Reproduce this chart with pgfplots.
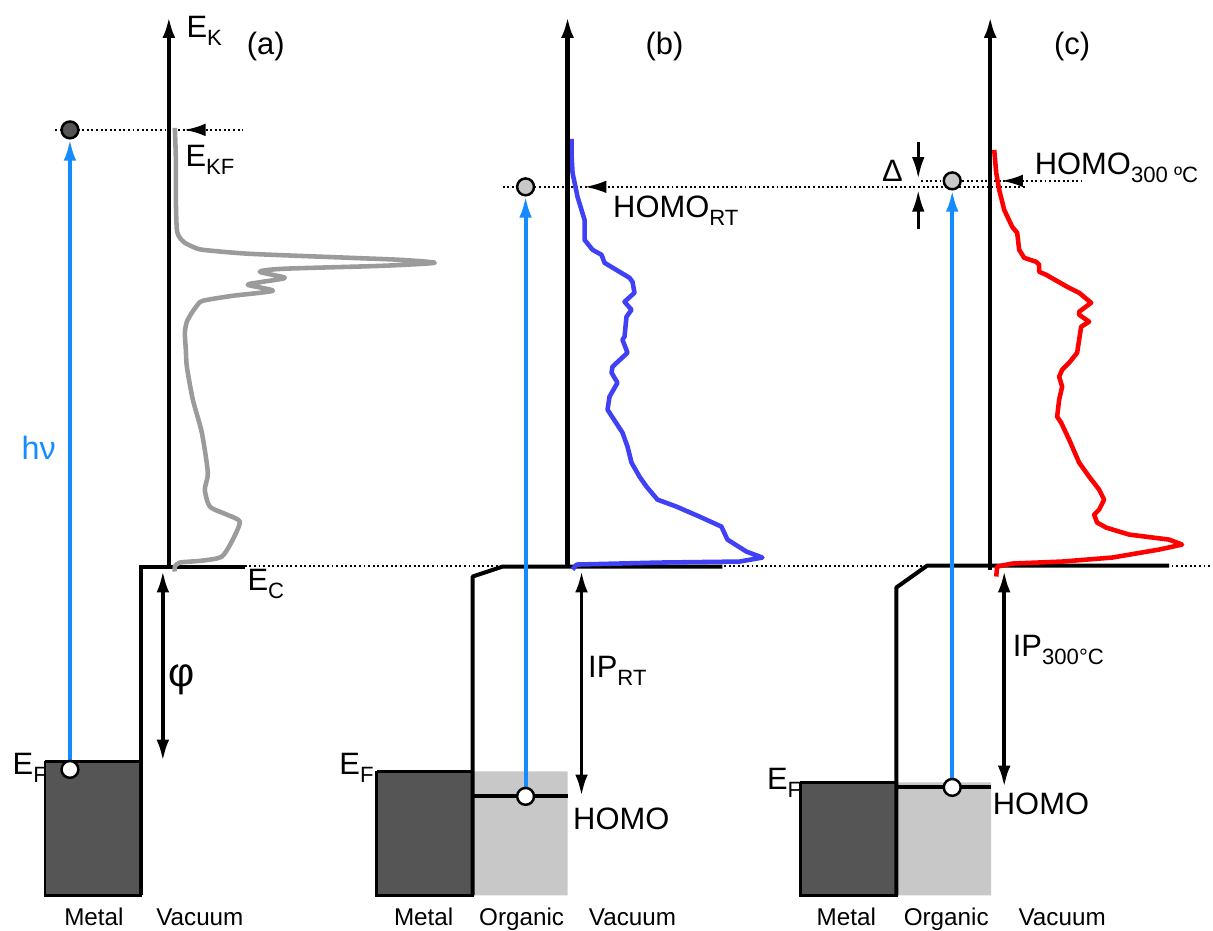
\documentclass[border=0pt]{standalone}
\usepackage{pgfplots}
\pgfplotsset{compat=1.18}
\usepackage{fontspec}
\setmainfont{Liberation Sans}
\usetikzlibrary{arrows.meta}
\definecolor{metal}{RGB}{85,85,85}
\definecolor{organic}{RGB}{200,200,200}
\definecolor{hnu}{RGB}{20,140,255}
\definecolor{bcurve}{RGB}{64,64,245}
\definecolor{gcurve}{RGB}{155,155,155}
\definecolor{rcurve}{RGB}{255,0,0}
\newcommand{\sub}[1]{\raisebox{-2.2pt}{\fontsize{6.3}{7}\selectfont #1}}
\tikzset{
  lab/.style={font=\fontsize{8.8}{10}\selectfont, inner sep=0pt},
  sml/.style={font=\fontsize{6.9}{8}\selectfont, inner sep=0pt},
  dots/.style={line width=0.55pt, dash pattern=on 0.55pt off 0.75pt},
  ah/.style={-{Latex[length=6.2pt,width=3.6pt]}},
  dah/.style={{Latex[length=6.2pt,width=3.6pt]}-{Latex[length=6.2pt,width=3.6pt]}},
}
\begin{document}
\begin{tikzpicture}
\begin{axis}[scale only axis, width=12.13cm, height=9.31cm,
  xmin=0, xmax=1213, ymin=0, ymax=931, y dir=reverse,
  hide axis, clip=false]
\draw[draw=none] (rel axis cs:0,0) rectangle (rel axis cs:1,1);

% ---- filled regions ----
\addplot[fill=metal, draw=black, line width=0.7pt] coordinates {(45,762)(141,762)(141,896)(45,896)(45,762)};
\addplot[fill=organic, draw=none] coordinates {(473,772)(568,772)(568,896)(473,896)(473,772)};
\addplot[fill=metal, draw=black, line width=0.7pt] coordinates {(377,772)(473,772)(473,896)(377,896)(377,772)};
\addplot[fill=organic, draw=none] coordinates {(897,783)(992,783)(992,896)(897,896)(897,783)};
\addplot[fill=metal, draw=black, line width=0.7pt] coordinates {(801,783)(897,783)(897,896)(801,896)(801,783)};

% ---- dotted guide lines ----
\addplot[dots] coordinates {(55,130)(243,130)};
\addplot[dots] coordinates {(245,566)(1213,566)};
\addplot[dots] coordinates {(503,187)(1028,187)};
\addplot[dots] coordinates {(922,181)(1083,181)};

% ---- band diagram lines ----
\addplot[black, line width=1.15pt, line join=miter] coordinates {(141,896)(141,567)(245,567)};
\addplot[black, line width=1.15pt, line join=round] coordinates {(473,896)(473,577)(503,567)(723,567)};
\addplot[black, line width=1.15pt] coordinates {(473,797)(568,797)};
\addplot[black, line width=1.15pt, line join=round] coordinates {(897,896)(897,588)(928,566)(1170,566)};
\addplot[black, line width=1.15pt] coordinates {(897,788)(992,788)};

% ---- spectra ----
\addplot[gcurve, line width=1.3pt, smooth, tension=0.4, line join=round] coordinates {
(175,128)(176,160)(176,200)(177,230)(180,238)(185,243)(193,247)(203,250)(250,254)(350,258)(400,260)(435,263)
(383,266)(283,269)(260,272)(285,278)(263,282)(248,285)(273,291)(233,296)(203,301)(197,306)(192,313)(187,322)
(185,333)(186,350)(187,367)(193,400)(202,433)(208,473)(205,490)(210,507)(227,515)(240,522)(233,540)(222,557)
(203,561)(180,563)(175,567)(175,572)};
\addplot[bcurve, line width=1.3pt, line join=round] coordinates {
(572,139)(572,155)(573,173)(578,197)(585,220)(585,240)(593,250)(602,255)(605,263)(630,278)(633,282)(635,293)
(625,302)(632,310)(627,317)(625,337)(623,340)(628,353)(613,367)(612,373)(618,383)(610,397)(608,410)(623,433)
(628,447)(632,463)(640,477)(647,487)(658,500)(677,507)(700,517)(722,527)(728,540)(747,552)(763,558)(740,562)
(660,563)(577,565)(573,570)};
\addplot[rcurve, line width=1.3pt, line join=round] coordinates {
(995,150)(997,173)(1000,190)(1005,210)(1013,227)(1018,233)(1020,250)(1025,258)(1037,262)(1040,265)(1040,272)
(1047,275)(1068,287)(1080,293)(1092,303)(1080,312)(1080,315)(1090,322)(1082,327)(1080,340)(1078,353)(1070,363)
(1063,370)(1060,377)(1063,387)(1060,400)(1058,417)(1062,423)(1070,440)(1080,463)(1090,477)(1100,490)(1105,500)
(1100,510)(1095,515)(1098,523)(1107,528)(1130,535)(1170,540)(1183,545)(1160,550)(1113,558)(1063,562)(1013,564)
(998,567)(997,577)};

% ---- energy axes ----
\addplot[black, line width=1.3pt, ah] coordinates {(169,567)(169,16)};
\addplot[black, line width=1.3pt, ah] coordinates {(568,567)(568,16)};
\addplot[black, line width=1.3pt, ah] coordinates {(991,570)(991,16)};

% ---- photoemission arrows ----
\addplot[hnu, line width=1.1pt, ah] coordinates {(70,762)(70,139)};
\addplot[hnu, line width=1.1pt, ah] coordinates {(526,789)(526,196)};
\addplot[hnu, line width=1.1pt, ah] coordinates {(953,780)(953,190)};

% ---- small black arrows ----
\addplot[black, line width=0.9pt, ah] coordinates {(202,130)(184,130)};
\addplot[black, line width=0.9pt, ah] coordinates {(605,187)(585,187)};
\addplot[black, line width=0.9pt, ah] coordinates {(1024,181)(1002,181)};
\addplot[black, line width=0.9pt, ah] coordinates {(919,142)(919,179)};
\addplot[black, line width=0.9pt, ah] coordinates {(919,229)(919,190)};
\addplot[black, line width=1.1pt, dah] coordinates {(163,571)(163,762)};
\addplot[black, line width=1.1pt, dah] coordinates {(582,571)(582,797)};
\addplot[black, line width=1.1pt, dah] coordinates {(1005,571)(1005,788)};

% ---- electron / hole circles ----
\addplot[only marks, mark=*, mark size=2.4pt, mark options={fill=metal, draw=black, line width=0.7pt}] coordinates {(70,130)};
\addplot[only marks, mark=*, mark size=2.4pt, mark options={fill=organic, draw=black, line width=0.7pt}] coordinates {(526,187)(953,181)};
\addplot[only marks, mark=*, mark size=2.4pt, mark options={fill=white, draw=black, line width=0.7pt}] coordinates {(70,770)(526,797)(953,788)};

% ---- labels ----
\node[lab, anchor=base west] at (axis cs:186,38) {E\sub{K}};
\node[lab, anchor=center] at (axis cs:266,47) {(a)};
\node[lab, anchor=center] at (axis cs:665,47) {(b)};
\node[lab, anchor=center] at (axis cs:1073,47) {(c)};
\node[lab, anchor=base west] at (axis cs:185,167) {E\sub{KF}};
\node[lab, anchor=base west, text=hnu, font=\fontsize{9.2}{10}\selectfont] at (axis cs:21,460) {hν};
\node[lab, anchor=center, font=\fontsize{11.5}{12}\selectfont] at (axis cs:182,680) {φ};
\node[lab, anchor=base west] at (axis cs:247,591) {E\sub{C}};
\node[lab, anchor=base west] at (axis cs:12,775) {E\sub{F}};
\node[lab, anchor=base west] at (axis cs:339,775) {E\sub{F}};
\node[lab, anchor=base west] at (axis cs:767,790) {E\sub{F}};
\node[lab, anchor=base west] at (axis cs:613,218) {HOMO\sub{RT}};
\node[lab, anchor=base west] at (axis cs:588,678) {IP\sub{RT}};
\node[lab, anchor=base west] at (axis cs:573,830) {HOMO};
\node[lab, anchor=base west] at (axis cs:882,182) {Δ};
\node[lab, anchor=base west] at (axis cs:1035,175) {HOMO\sub{300 ºC}};
\node[lab, anchor=base west] at (axis cs:1013,657) {IP\sub{300°C}};
\node[lab, anchor=base west] at (axis cs:993,815) {HOMO};
\node[sml, anchor=base] at (axis cs:94,926) {Metal};
\node[sml, anchor=base] at (axis cs:200,926) {Vacuum};
\node[sml, anchor=base] at (axis cs:424,926) {Metal};
\node[sml, anchor=base] at (axis cs:522,926) {Organic};
\node[sml, anchor=base] at (axis cs:633,926) {Vacuum};
\node[sml, anchor=base] at (axis cs:847,926) {Metal};
\node[sml, anchor=base] at (axis cs:947,926) {Organic};
\node[sml, anchor=base] at (axis cs:1063,926) {Vacuum};
\end{axis}
\end{tikzpicture}
\end{document}
